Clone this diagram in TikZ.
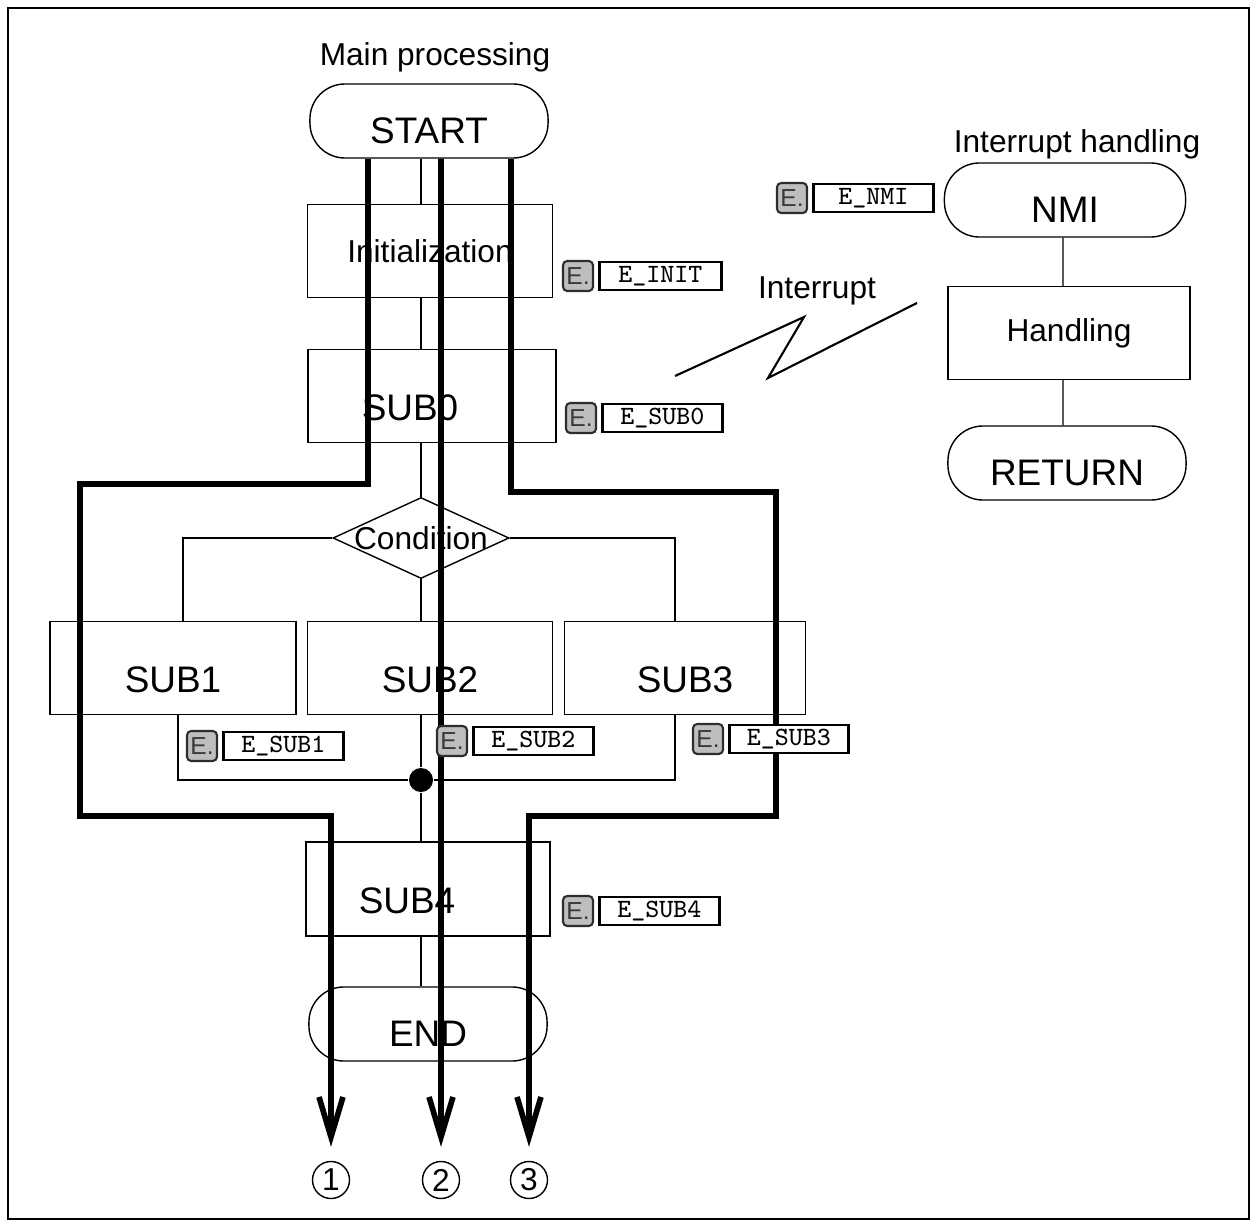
\documentclass[tikz,border=0pt]{standalone}
\usepackage{fontspec}
\setmainfont{Liberation Sans}
\usetikzlibrary{positioning,arrows.meta,shapes.geometric}
\definecolor{btngray}{RGB}{190,190,190}

\begin{document}
\begin{tikzpicture}[x=0.01cm, y=-0.01cm, line width=0.4pt, font=\fontsize{9}{10}\selectfont,
    term/.style={draw, rounded corners=0.35cm, minimum width=2.38cm, minimum height=0.74cm,
      font=\fontsize{10.5}{12}\selectfont, text height=13pt, text depth=0pt},
    proc/.style={draw, minimum width=2.45cm, minimum height=0.93cm},
    bigproc/.style={proc, font=\fontsize{10.5}{12}\selectfont, text height=14pt, text depth=0pt},
    ebtn/.style={draw=gray!35!black, fill=btngray, rounded corners=1.2pt, line width=0.6pt,
      minimum width=0.3cm, minimum height=0.3cm, inner sep=0pt, text=gray!45!black,
      font=\fontsize{7}{8}\selectfont},
    ebox/.style={draw, fill=white, line width=0.7pt, minimum width=1.2cm, minimum height=0.28cm,
      inner sep=0pt, font=\ttfamily\fontsize{7.5}{8}\selectfont},
    route/.style={line width=1.6pt, -{Straight Barb[length=0.4cm, width=0.24cm]}},
    num/.style={draw, circle, minimum size=0.37cm, inner sep=0pt}]
  \useasboundingbox (0,0) rectangle (1257,1227);
  \draw (8,8) rectangle (1249,1219);

  % main processing
  \node (mainlbl) at (435,57) {Main processing};
  \node[term] (start) at (429,121) {START};
  \node[proc] (init) at (430,251) {Initialization};
  \node[bigproc, minimum width=2.48cm] (sub0) at (432,396) {SUB0\hspace*{0.44cm}};
  \node[draw, diamond, minimum width=1.76cm, minimum height=0.81cm, inner sep=0pt] (cond) at (421,538) {\makebox[0pt]{Condition}};
  \node[bigproc, minimum width=2.46cm] (sub1) at (173,668) {SUB1};
  \node[bigproc] (sub2) at (430,668) {SUB2};
  \node[bigproc, minimum width=2.41cm] (sub3) at (685,668) {SUB3};
  \node[circle, fill, inner sep=0pt, minimum size=0.24cm] (join) at (421,780) {};
  \node[bigproc, minimum width=2.44cm, minimum height=0.94cm] (sub4) at (428,889) {SUB4\hspace*{0.42cm}};
  \node[term] (finish) at (428,1024) {END};

  \draw (start.south -| cond) -- (init.north -| cond);
  \draw (init.south -| cond) -- (sub0.north -| cond);
  \draw (sub0.south -| cond) -- (cond.north);
  \draw (cond.south) -- (sub2.north -| cond);
  \draw (cond.west) -| ([xshift=0.1cm]sub1.north);
  \draw (cond.east) -| ([xshift=-0.1cm]sub3.north);
  \draw ([xshift=0.05cm]sub1.south) |- (join) -| ([xshift=-0.1cm]sub3.south);
  \draw (sub2.south -| join) -- (join);
  \draw (join) -- (sub4.north -| join);
  \draw (sub4.south -| join) -- (finish.north -| join);

  % interrupt handling
  \node (intlbl) at (1077,144) {Interrupt handling};
  \node[term, minimum width=2.41cm] (nmi) at (1065,200) {NMI};
  \node[proc, minimum width=2.42cm] (handl) at (1069,333) {Handling};
  \node[term] (ret) at (1067,463) {RETURN};
  \draw ([xshift=-0.02cm]nmi.south) -- ([xshift=-0.06cm]handl.north);
  \draw ([xshift=-0.06cm]handl.south) -- ([xshift=-0.04cm]ret.north);

  \node (intr) at (817,291) {Interrupt};
  \draw[line width=0.6pt] (675,376) -- (804,317) -- (768,378) -- (917,303);

  % execution paths
  \node[num] (c1) at (331,1180) {1};
  \node[num] (c2) at (441,1180) {2};
  \node[num] (c3) at (529,1180) {3};
  \draw[route] ([xshift=-0.61cm]start.south) |- (80,484) -- (80,816) -| ([yshift=0.14cm]c1.north);
  \draw[route] ([xshift=0.12cm]start.south) -- ([yshift=0.14cm]c2.north);
  \draw[route] ([xshift=0.82cm]start.south) |- (776,492) -- (776,816) -| ([yshift=0.14cm]c3.north);

  % event badges
  \node[ebtn] (bnmi) at (792,198) {E.};
  \node[ebox, right=0.04cm of bnmi] (enmi) {E\_NMI};
  \node[ebtn] (binit) at (578,276) {E.};
  \node[ebox, right=0.04cm of binit, minimum width=1.22cm] (einit) {E\_INIT};
  \node[ebtn] (bsub0) at (581,418) {E.};
  \node[ebox, right=0.04cm of bsub0] (esub0) {E\_SUB0};
  \node[ebtn] (bsub1) at (202,746) {E.};
  \node[ebox, right=0.04cm of bsub1] (esub1) {E\_SUB1};
  \node[ebtn] (bsub2) at (452,741) {E.};
  \node[ebox, right=0.04cm of bsub2] (esub2) {E\_SUB2};
  \node[ebtn] (bsub3) at (708,739) {E.};
  \node[ebox, right=0.04cm of bsub3, minimum width=1.19cm] (esub3) {E\_SUB3};
  \node[ebtn] (bsub4) at (578,911) {E.};
  \node[ebox, right=0.04cm of bsub4] (esub4) {E\_SUB4};
\end{tikzpicture}
\end{document}
